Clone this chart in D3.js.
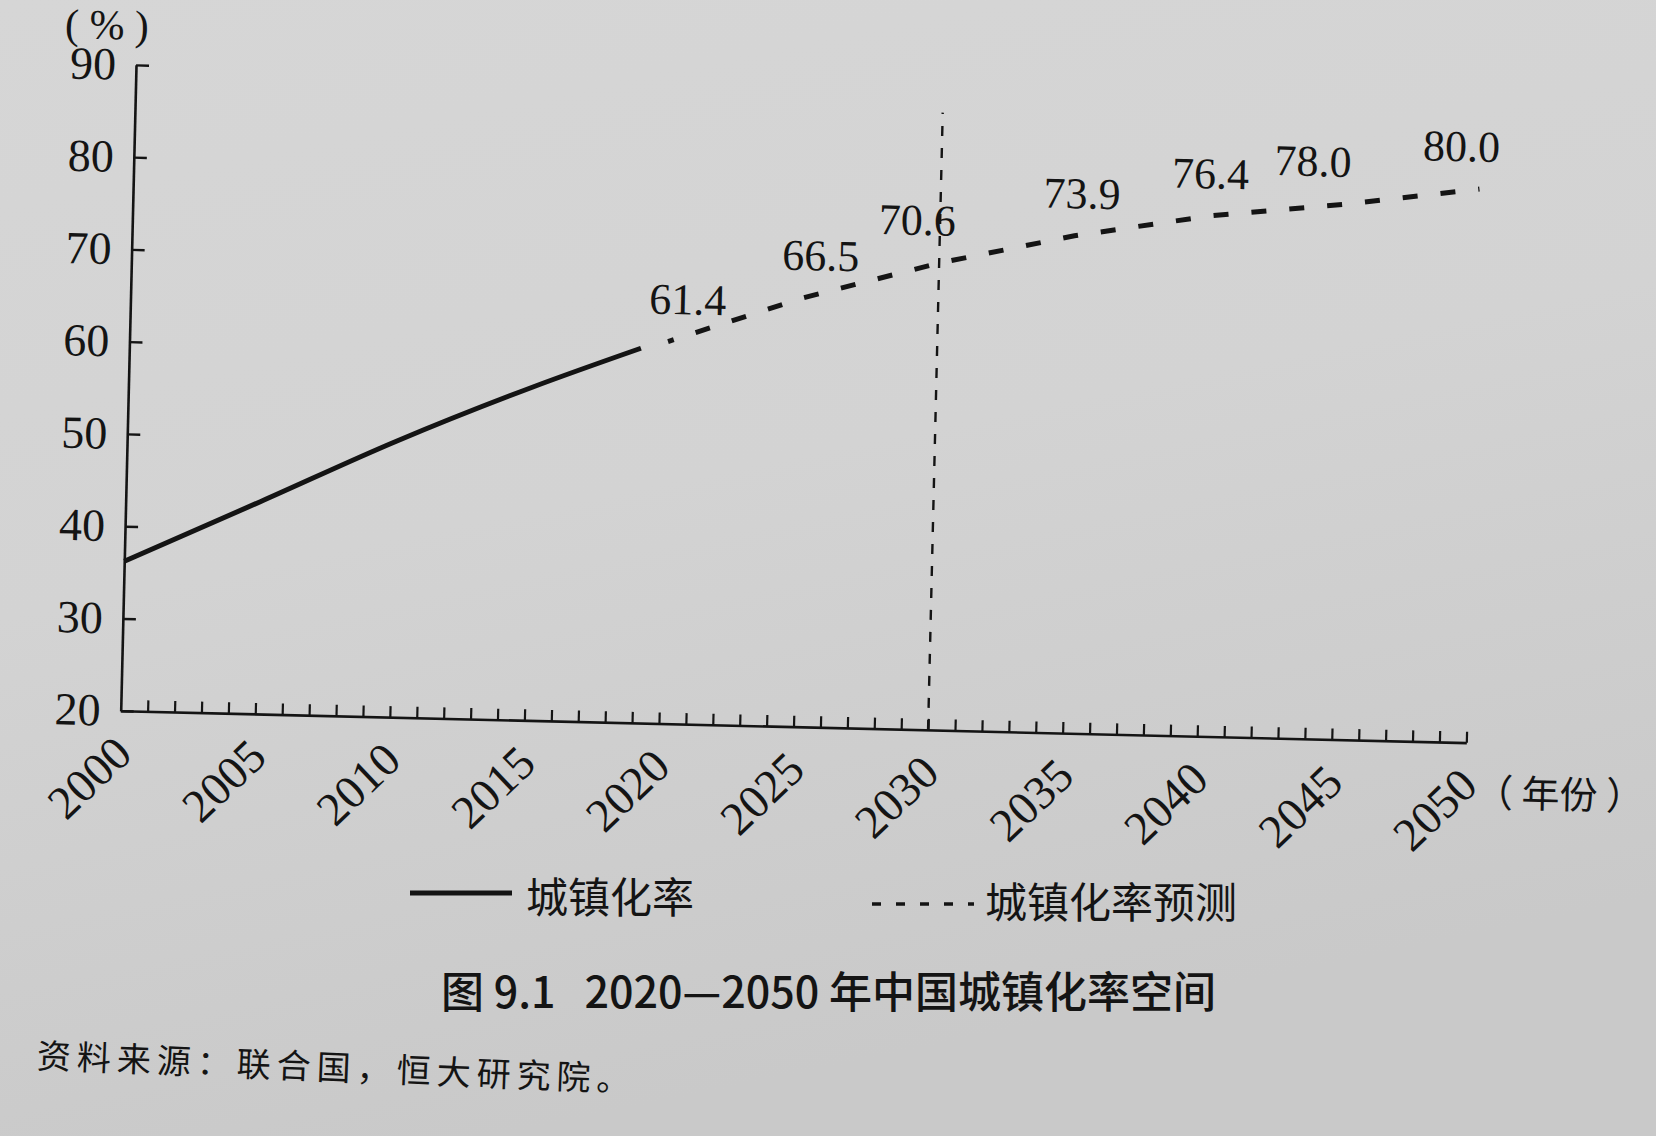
<!DOCTYPE html>
<html>
<head>
<meta charset="utf-8">
<script src="https://cdn.jsdelivr.net/npm/d3@7"></script>
<style>
  body { margin: 0; background: #d2d2d2; }
  svg { display: block; }
</style>
</head>
<body>
<svg width="1656" height="1136"></svg>
<script>
// urbanization rate, % (solid = actual, dashed = forecast)
var solidYears = [2000, 2005, 2010, 2015, 2019];
var solidValues = [36.2, 43.0, 49.9, 56.1, 60.6];
var forecastYears = [2020, 2025, 2030, 2035, 2040, 2045, 2050];
var forecastValues = [61.4, 66.5, 70.6, 73.9, 76.4, 78.0, 80.0];
// little left/right nudges of the value labels, in years
var labelShift = [0.7, 0.6, -0.85, 0.25, 0, -1.2, -0.7];

var yTickValues = [20, 30, 40, 50, 60, 70, 80, 90];
var xTickLabels = [2000, 2005, 2010, 2015, 2020, 2025, 2030, 2035, 2040, 2045, 2050];
var splitYear = 2030;

var legendNames = ["城镇化率", "城镇化率预测"];
var caption = "图 9.1\u00a0\u00a0\u00a02020—2050 年中国城镇化率空间";
var source = "资料来源：联合国，恒大研究院。";

var ink = "#141414",
    serif = "'Liberation Serif', 'Times New Roman', serif",
    cjk = "'Noto Sans CJK SC', sans-serif";

var svg = d3.select("svg"),
    width = +svg.attr("width"),
    height = +svg.attr("height");

// paper tone
var grad = svg.append("defs").append("linearGradient")
    .attr("id", "paper").attr("x1", 0).attr("y1", 0).attr("x2", 0.3).attr("y2", 1);
grad.append("stop").attr("offset", 0).attr("stop-color", "#d6d6d6");
grad.append("stop").attr("offset", 0.5).attr("stop-color", "#d3d3d3");
grad.append("stop").attr("offset", 1).attr("stop-color", "#c9c9c9");
svg.append("rect").attr("width", width).attr("height", height).attr("fill", "url(#paper)");

// the page is photographed a little crooked
var originX = 120.7, originY = 710.7, tilt = 1.36;
var g = svg.append("g")
    .attr("transform", "translate(" + originX + "," + originY + ") rotate(" + tilt + ")")
    .attr("color", ink);

var x = d3.scaleLinear().domain([2000, 2050]).range([0, 1346]);
var y = d3.scaleLinear().domain([20, 90]).range([0, -646]);

// y axis, ticks pointing inward
var yAxis = g.append("g")
    .call(d3.axisLeft(y).tickValues(yTickValues).tickSize(-13).tickSizeOuter(0).tickPadding(20));
yAxis.select(".domain").attr("stroke-width", 2.6);
yAxis.selectAll(".tick line").attr("stroke-width", 2.4);
yAxis.selectAll("text")
    .attr("font-family", serif).attr("font-size", 46).attr("fill", ink);

// x axis: a tick every year
var xAxis = g.append("g")
    .call(d3.axisBottom(x).tickValues(d3.range(2001, 2051)).tickSize(-11).tickSizeOuter(0).tickFormat(""));
xAxis.select(".domain").attr("stroke-width", 2.6);
xAxis.selectAll(".tick line").attr("stroke-width", 2.2);

// slanted year labels
g.append("g").selectAll("text")
  .data(xTickLabels)
  .enter().append("text")
    .attr("transform", function(d) { return "translate(" + (x(d) + 3) + ",34) rotate(-45)"; })
    .attr("text-anchor", "end")
    .attr("dy", "0.35em")
    .attr("font-family", serif).attr("font-size", 47).attr("fill", ink)
    .text(function(d) { return d; });

g.append("text")
    .attr("x", -30).attr("y", -686)
    .attr("text-anchor", "middle").attr("dy", "0.35em")
    .attr("font-family", serif).attr("font-size", 42).attr("fill", ink)
    .text("( % )");

g.append("text")
    .attr("x", 1356).attr("y", 50)
    .attr("dy", "0.35em")
    .attr("font-family", cjk).attr("font-size", 38).attr("fill", ink)
    .text("（ 年份 ）");

// 2030 divider
g.append("line")
    .attr("x1", x(splitYear)).attr("x2", x(splitYear))
    .attr("y1", y(20)).attr("y2", y(86.9))
    .attr("stroke", ink).attr("stroke-width", 2.4)
    .attr("stroke-dasharray", "10 12");

var line = d3.line()
    .x(function(d) { return x(d[0]); })
    .y(function(d) { return y(d[1]); });

g.append("path")
    .datum(d3.zip(solidYears, solidValues))
    .attr("d", line.curve(d3.curveMonotoneX))
    .attr("fill", "none").attr("stroke", ink).attr("stroke-width", 5);

g.append("path")
    .datum(d3.zip(forecastYears, forecastValues))
    .attr("d", line.curve(d3.curveLinear))
    .attr("fill", "none").attr("stroke", ink).attr("stroke-width", 5)
    .attr("stroke-dasharray", "15 23").attr("stroke-dashoffset", 9);

g.append("g").selectAll("text")
  .data(forecastValues)
  .enter().append("text")
    .attr("x", function(d, i) { return x(forecastYears[i] + labelShift[i]); })
    .attr("y", function(d) { return y(d) - 43; })
    .attr("text-anchor", "middle").attr("dy", "0.35em")
    .attr("font-family", serif).attr("font-size", 44).attr("fill", ink)
    .text(function(d) { return d.toFixed(1); });

// legend
var legend = svg.append("g");
legend.append("line")
    .attr("x1", 410).attr("x2", 512).attr("y1", 893).attr("y2", 893)
    .attr("stroke", ink).attr("stroke-width", 5);
legend.append("text")
    .attr("x", 526).attr("y", 898).attr("dy", "0.35em")
    .attr("font-family", cjk).attr("font-size", 42).attr("fill", ink)
    .text(legendNames[0]);
legend.append("line")
    .attr("x1", 872).attr("x2", 974).attr("y1", 904).attr("y2", 904)
    .attr("stroke", ink).attr("stroke-width", 3.5)
    .attr("stroke-dasharray", "9 15");
legend.append("text")
    .attr("x", 985).attr("y", 903).attr("dy", "0.35em")
    .attr("font-family", cjk).attr("font-size", 42).attr("fill", ink)
    .text(legendNames[1]);

svg.append("text")
    .attr("x", 441).attr("y", 993).attr("dy", "0.35em")
    .attr("font-family", cjk).attr("font-size", 43).attr("font-weight", 500).attr("fill", ink)
    .text(caption);

svg.append("text")
    .attr("transform", "translate(37,1056) rotate(2.3)")
    .attr("dy", "0.35em")
    .attr("font-family", cjk).attr("font-size", 34).attr("letter-spacing", 6).attr("fill", ink)
    .text(source);
</script>
</body>
</html>
